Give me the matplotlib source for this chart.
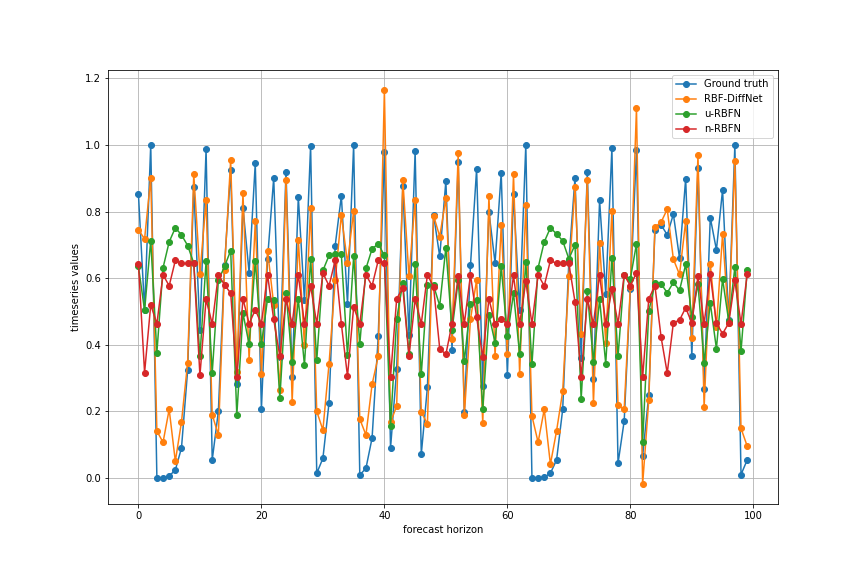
import matplotlib
matplotlib.use("Agg")
import matplotlib.pyplot as plt
import numpy as np

# ---- データ ----
horizon = np.arange(100)

ground_truth = [
    0.852, 0.505, 1.000, 0.000, 0.000, 0.006, 0.024, 0.090, 0.323, 0.874,
    0.443, 0.987, 0.054, 0.200, 0.638, 0.925, 0.283, 0.812, 0.616, 0.945,
    0.206, 0.658, 0.901, 0.363, 0.919, 0.302, 0.844, 0.533, 0.997, 0.014,
    0.059, 0.226, 0.698, 0.847, 0.523, 1.000, 0.009, 0.029, 0.120, 0.425,
    0.979, 0.090, 0.326, 0.877, 0.430, 0.982, 0.071, 0.273, 0.790, 0.665,
    0.892, 0.385, 0.949, 0.198, 0.638, 0.928, 0.275, 0.799, 0.646, 0.916,
    0.308, 0.852, 0.503, 1.000, 0.000, 0.000, 0.002, 0.014, 0.054, 0.206,
    0.650, 0.900, 0.361, 0.918, 0.296, 0.834, 0.553, 0.990, 0.044, 0.171,
    0.566, 0.984, 0.066, 0.249, 0.745, 0.760, 0.730, 0.792, 0.660, 0.899,
    0.365, 0.930, 0.266, 0.782, 0.685, 0.865, 0.473, 1.000, 0.010, 0.054,
]

rbf_diffnet = [
    0.745, 0.718, 0.901, 0.141, 0.107, 0.206, 0.050, 0.168, 0.346, 0.912,
    0.613, 0.834, 0.190, 0.129, 0.625, 0.955, 0.318, 0.855, 0.355, 0.771,
    0.313, 0.683, 0.520, 0.265, 0.895, 0.227, 0.716, 0.398, 0.811, 0.200,
    0.144, 0.343, 0.593, 0.790, 0.646, 0.802, 0.177, 0.129, 0.281, 0.365,
    1.165, 0.167, 0.216, 0.895, 0.605, 0.835, 0.198, 0.162, 0.788, 0.725,
    0.840, 0.416, 0.975, 0.188, 0.476, 0.595, 0.164, 0.846, 0.367, 0.760,
    0.371, 0.912, 0.311, 0.820, 0.186, 0.107, 0.206, 0.041, 0.141, 0.260,
    0.605, 0.873, 0.433, 0.894, 0.224, 0.706, 0.406, 0.802, 0.218, 0.206,
    0.573, 1.111, -0.019, 0.234, 0.753, 0.768, 0.807, 0.657, 0.611, 0.771,
    0.421, 0.970, 0.212, 0.643, 0.452, 0.733, 0.465, 0.952, 0.149, 0.096,
]

u_rbfn = [
    0.635, 0.503, 0.713, 0.376, 0.631, 0.709, 0.751, 0.730, 0.698, 0.645,
    0.365, 0.650, 0.316, 0.593, 0.635, 0.683, 0.188, 0.495, 0.401, 0.652,
    0.401, 0.538, 0.533, 0.239, 0.556, 0.349, 0.538, 0.338, 0.658, 0.353,
    0.623, 0.668, 0.671, 0.671, 0.368, 0.665, 0.401, 0.629, 0.688, 0.703,
    0.668, 0.156, 0.477, 0.586, 0.371, 0.641, 0.311, 0.578, 0.578, 0.517,
    0.692, 0.443, 0.593, 0.350, 0.523, 0.533, 0.206, 0.490, 0.406, 0.635,
    0.425, 0.555, 0.371, 0.649, 0.341, 0.631, 0.709, 0.751, 0.733, 0.712,
    0.658, 0.700, 0.236, 0.560, 0.349, 0.536, 0.343, 0.661, 0.365, 0.608,
    0.598, 0.703, 0.107, 0.500, 0.585, 0.583, 0.556, 0.587, 0.563, 0.641,
    0.483, 0.583, 0.346, 0.526, 0.388, 0.598, 0.471, 0.633, 0.380, 0.623,
]

n_rbfn = [
    0.643, 0.316, 0.520, 0.463, 0.610, 0.577, 0.653, 0.644, 0.644, 0.644,
    0.308, 0.536, 0.463, 0.610, 0.580, 0.555, 0.303, 0.538, 0.463, 0.505,
    0.463, 0.610, 0.476, 0.365, 0.536, 0.463, 0.610, 0.463, 0.577, 0.463,
    0.615, 0.577, 0.653, 0.463, 0.305, 0.513, 0.463, 0.610, 0.577, 0.653,
    0.644, 0.303, 0.538, 0.571, 0.365, 0.536, 0.463, 0.610, 0.574, 0.388,
    0.371, 0.463, 0.605, 0.463, 0.610, 0.482, 0.363, 0.538, 0.463, 0.476,
    0.463, 0.608, 0.463, 0.590, 0.463, 0.610, 0.577, 0.653, 0.644, 0.644,
    0.644, 0.529, 0.303, 0.536, 0.463, 0.610, 0.463, 0.566, 0.463, 0.610,
    0.577, 0.616, 0.303, 0.538, 0.577, 0.423, 0.315, 0.466, 0.474, 0.511,
    0.465, 0.606, 0.463, 0.611, 0.465, 0.433, 0.465, 0.593, 0.463, 0.611,
]

# ---- グラフ描画 ----
fig = plt.figure(figsize=(12, 8), dpi=72)
ax = fig.add_subplot(111)
fig.subplots_adjust(left=0.125, right=0.9, top=0.878, bottom=0.125)

ax.plot(horizon, ground_truth, marker="o", label="Ground truth")
ax.plot(horizon, rbf_diffnet, marker="o", label="RBF-DiffNet")
ax.plot(horizon, u_rbfn, marker="o", label="u-RBFN")
ax.plot(horizon, n_rbfn, marker="o", label="n-RBFN")

ax.set_xlabel("forecast horizon")
ax.set_ylabel("timeseries values")
ax.grid(True)
ax.legend(loc="upper right")

fig.savefig("out.png", dpi=72)
print("[Saved] out.png")
